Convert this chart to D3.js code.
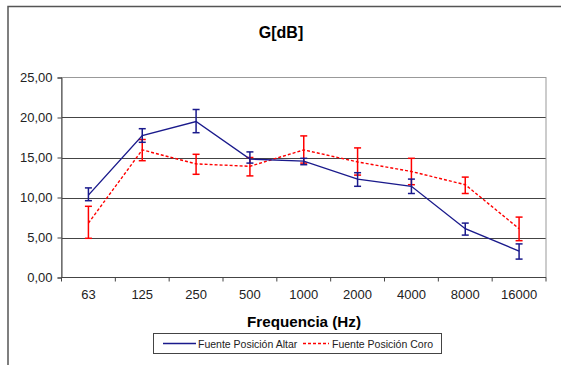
<!DOCTYPE html>
<html>
<head>
<meta charset="utf-8">
<script src="https://cdn.jsdelivr.net/npm/d3@7"></script>
<style>
  body { margin: 0; background: #fff; }
  svg { font-family: Arial, "Liberation Sans", sans-serif; }
</style>
</head>
<body>
<svg id="chart"></svg>
<script>
// chart data
var freqs = ["63", "125", "250", "500", "1000", "2000", "4000", "8000", "16000"];
var altar = [10.3, 17.75, 19.5, 14.8, 14.55, 12.3, 11.4, 6.1, 3.3];
var altarHi = [11.2, 18.6, 21.0, 15.7, 14.9, 13.1, 12.3, 6.8, 4.2];
var altarLo = [9.6, 16.9, 18.1, 14.3, 14.1, 11.4, 10.5, 5.3, 2.3];
var coro = [6.8, 15.95, 14.2, 13.9, 15.95, 14.45, 13.25, 11.6, 6.1];
var coroHi = [8.9, 17.25, 15.4, 15.0, 17.7, 16.2, 14.9, 12.55, 7.55];
var coroLo = [4.9, 14.6, 12.9, 12.7, 14.3, 12.8, 11.6, 10.5, 4.6];
var yTicks = [0, 5, 10, 15, 20, 25];

var W = 561, H = 365;
var margin = {left: 61.5, right: 15, top: 77.5, bottom: 87.5};
var pw = 546 - 61.5, ph = 277.5 - 77.5;

var svg = d3.select("#chart").attr("width", W).attr("height", H);

// outer frame (only top and left edges visible)
svg.append("path")
    .attr("d", "M8,365 L8,6.5 L561,6.5")
    .attr("fill", "none")
    .attr("stroke", "#555")
    .attr("stroke-width", 1.5);

var x = d3.scaleBand().domain(freqs).range([margin.left, margin.left + pw]);
var y = d3.scaleLinear().domain([0, 25]).range([margin.top + ph, margin.top]);

var fmt = function (v) { return d3.format(".2f")(v).replace(".", ","); };

// gridlines
svg.append("g").selectAll("line")
    .data(yTicks.filter(function (d) { return d > 0 && d < 25; }))
    .enter().append("line")
    .attr("x1", margin.left).attr("x2", margin.left + pw)
    .attr("y1", function (d) { return Math.round(y(d)) + 0.5; })
    .attr("y2", function (d) { return Math.round(y(d)) + 0.5; })
    .attr("stroke", "#444").attr("stroke-width", 1);

// plot area border
svg.append("rect")
    .attr("x", margin.left).attr("y", margin.top)
    .attr("width", pw).attr("height", ph)
    .attr("fill", "none").attr("stroke", "#999").attr("stroke-width", 1);

// y axis
var yAxis = svg.append("g")
    .attr("transform", "translate(" + margin.left + ",0)")
    .call(d3.axisLeft(y).tickValues(yTicks).tickFormat(fmt).tickSize(4).tickPadding(5));
yAxis.select(".domain").attr("stroke", "#444");
yAxis.selectAll(".tick line").attr("stroke", "#444");
yAxis.selectAll("text").attr("font-size", 13).attr("fill", "#222")
    .attr("font-family", "Arial, 'Liberation Sans', sans-serif");

// x axis, ticks at category boundaries
var xAxis = svg.append("g")
    .attr("transform", "translate(0," + (margin.top + ph) + ")");
xAxis.append("line")
    .attr("x1", margin.left).attr("x2", margin.left + pw)
    .attr("stroke", "#444");
xAxis.selectAll(".bt")
    .data(d3.range(freqs.length + 1))
    .enter().append("line")
    .attr("x1", function (i) { return margin.left + i * x.step(); })
    .attr("x2", function (i) { return margin.left + i * x.step(); })
    .attr("y1", 0).attr("y2", 4)
    .attr("stroke", "#444");
xAxis.selectAll("text")
    .data(freqs).enter().append("text")
    .attr("x", function (d) { return x(d) + x.bandwidth() / 2; })
    .attr("y", 21)
    .attr("text-anchor", "middle")
    .attr("font-size", 13).attr("fill", "#222")
    .text(function (d) { return d; });

// title + axis title
svg.append("text")
    .attr("x", 281).attr("y", 37.5)
    .attr("text-anchor", "middle")
    .attr("font-size", 16).attr("font-weight", "bold")
    .text("G[dB]");
svg.append("text")
    .attr("x", 304).attr("y", 327)
    .attr("text-anchor", "middle")
    .attr("font-size", 15.2).attr("font-weight", "bold")
    .text("Frequencia (Hz)");

var cx = function (i) { return x(freqs[i]) + x.bandwidth() / 2; };

function drawSeries(vals, hi, lo, color, dash) {
    var g = svg.append("g");
    var line = d3.line()
        .x(function (d, i) { return cx(i); })
        .y(function (d) { return y(d); });
    g.append("path")
        .datum(vals)
        .attr("d", line)
        .attr("fill", "none")
        .attr("stroke", color)
        .attr("stroke-width", 1.4)
        .attr("stroke-dasharray", dash);
    // error bars
    var eb = g.selectAll(".eb").data(vals).enter().append("g");
    eb.append("line")
        .attr("x1", function (d, i) { return cx(i); })
        .attr("x2", function (d, i) { return cx(i); })
        .attr("y1", function (d, i) { return y(hi[i]); })
        .attr("y2", function (d, i) { return y(lo[i]); })
        .attr("stroke", color).attr("stroke-width", 1.5);
    [hi, lo].forEach(function (arr) {
        eb.append("line")
            .attr("x1", function (d, i) { return cx(i) - 3.5; })
            .attr("x2", function (d, i) { return cx(i) + 3.5; })
            .attr("y1", function (d, i) { return y(arr[i]); })
            .attr("y2", function (d, i) { return y(arr[i]); })
            .attr("stroke", color).attr("stroke-width", 1.5);
    });
}

drawSeries(coro, coroHi, coroLo, "#ff0000", "3,2");
drawSeries(altar, altarHi, altarLo, "#1a1a8c", null);

// legend
var lg = svg.append("g");
lg.append("rect")
    .attr("x", 153.5).attr("y", 333.5)
    .attr("width", 288).attr("height", 20)
    .attr("fill", "#fff").attr("stroke", "#444").attr("stroke-width", 1);
lg.append("line")
    .attr("x1", 163).attr("x2", 196).attr("y1", 343.5).attr("y2", 343.5)
    .attr("stroke", "#1a1a8c").attr("stroke-width", 1.4);
lg.append("text")
    .attr("x", 198).attr("y", 347.5)
    .attr("font-size", 10.5).attr("fill", "#222")
    .text("Fuente Posición Altar");
lg.append("line")
    .attr("x1", 303).attr("x2", 329).attr("y1", 343.5).attr("y2", 343.5)
    .attr("stroke", "#ff0000").attr("stroke-width", 1.4)
    .attr("stroke-dasharray", "3,2");
lg.append("text")
    .attr("x", 332).attr("y", 347.5)
    .attr("font-size", 10.5).attr("fill", "#222")
    .text("Fuente Posición Coro");
</script>
</body>
</html>
